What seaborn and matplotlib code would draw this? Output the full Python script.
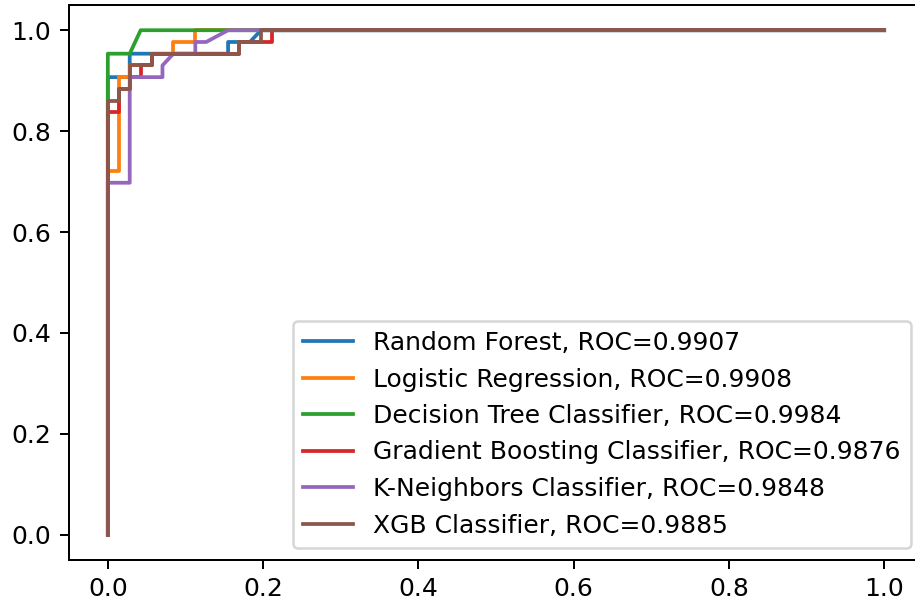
import pandas as pd
import matplotlib
matplotlib.use("Agg")
import matplotlib.pyplot as plt
import seaborn as sns

# ROC points (fpr, tpr) for each model
models = [
    "Random Forest",
    "Logistic Regression",
    "Decision Tree Classifier",
    "Gradient Boosting Classifier",
    "K-Neighbors Classifier",
    "XGB Classifier",
]
roc_auc = [0.9907, 0.9908, 0.9984, 0.9876, 0.9848, 0.9885]

rf_fpr = [0.0, 0.0, 0.0282, 0.0282, 0.1549, 0.1549, 0.1831, 0.1972, 1.0]
rf_tpr = [0.0, 0.9070, 0.9070, 0.9535, 0.9535, 0.9767, 0.9767, 1.0, 1.0]

lr_fpr = [0.0, 0.0, 0.0141, 0.0141, 0.0282, 0.0282, 0.0563, 0.0563, 0.0845, 0.0845, 0.1127, 0.1127, 1.0]
lr_tpr = [0.0, 0.7209, 0.7209, 0.9070, 0.9070, 0.9302, 0.9302, 0.9535, 0.9535, 0.9767, 0.9767, 1.0, 1.0]

dt_fpr = [0.0, 0.0, 0.0282, 0.0423, 1.0]
dt_tpr = [0.0, 0.9535, 0.9535, 1.0, 1.0]

gb_fpr = [0.0, 0.0, 0.0141, 0.0141, 0.0282, 0.0282, 0.0423, 0.0423, 0.0563, 0.0563, 0.1690, 0.1690, 0.2113, 0.2113, 1.0]
gb_tpr = [0.0, 0.8372, 0.8372, 0.8837, 0.8837, 0.9070, 0.9070, 0.9302, 0.9302, 0.9535, 0.9535, 0.9767, 0.9767, 1.0, 1.0]

knn_fpr = [0.0, 0.0, 0.0282, 0.0282, 0.0704, 0.0704, 0.0845, 0.1127, 0.1127, 0.1268, 0.1549, 1.0]
knn_tpr = [0.0, 0.6977, 0.6977, 0.9070, 0.9070, 0.9302, 0.9535, 0.9535, 0.9767, 0.9767, 1.0, 1.0]

xgb_fpr = [0.0, 0.0, 0.0141, 0.0141, 0.0282, 0.0282, 0.0563, 0.0563, 0.1690, 0.1690, 0.1972, 0.1972, 1.0]
xgb_tpr = [0.0, 0.8605, 0.8605, 0.8837, 0.8837, 0.9302, 0.9302, 0.9535, 0.9535, 0.9767, 0.9767, 1.0, 1.0]

curves = [
    (rf_fpr, rf_tpr),
    (lr_fpr, lr_tpr),
    (dt_fpr, dt_tpr),
    (gb_fpr, gb_tpr),
    (knn_fpr, knn_tpr),
    (xgb_fpr, xgb_tpr),
]

# Build one long table for seaborn
frames = []
labels = []
for name, auc, (fpr, tpr) in zip(models, roc_auc, curves):
    label = f"{name}, ROC={auc:.4f}"
    labels.append(label)
    frames.append(pd.DataFrame({"fpr": fpr, "tpr": tpr, "model": label}))
df = pd.concat(frames, ignore_index=True)

plt.rcParams["font.family"] = ["DejaVu Sans"]
plt.rcParams["font.size"] = 10

dpi = 180
fig = plt.figure(figsize=(915 / dpi, 609 / dpi), dpi=dpi)
# the original image is cropped a little on the right, so the axes run past the edge
ax = fig.add_axes([69 / 915, 49 / 609, 854 / 915, 555 / 609])

sns.lineplot(data=df, x="fpr", y="tpr", hue="model", hue_order=labels,
             palette="tab10", sort=False, estimator=None, units="model",
             linewidth=1.5, ax=ax)

ax.set_xlabel("")
ax.set_ylabel("")
ax.set_xticks([0.0, 0.2, 0.4, 0.6, 0.8, 1.0])
ax.set_yticks([0.0, 0.2, 0.4, 0.6, 0.8, 1.0])
ax.spines["right"].set_visible(False)
sns.move_legend(ax, "lower right", title=None)

fig.savefig("out.png", dpi=dpi)
